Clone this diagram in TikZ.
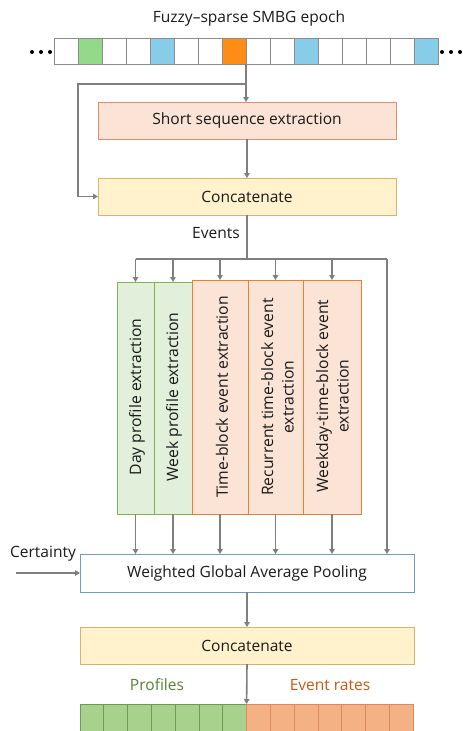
\documentclass[tikz,border=0pt]{standalone}
\usepackage{fontspec}
\setmainfont{Open Sans}
\usetikzlibrary{arrows.meta}
\definecolor{cellgray}{HTML}{8C8C8C}
\definecolor{cgreen}{RGB}{146,217,138}
\definecolor{cblue}{RGB}{135,204,232}
\definecolor{corange}{RGB}{255,140,20}
\definecolor{sseFill}{HTML}{FBE3D6}
\definecolor{sseDraw}{HTML}{E58D6B}
\definecolor{catFill}{HTML}{FFF2CC}
\definecolor{catDraw}{HTML}{D4B36A}
\definecolor{gFill}{HTML}{E2EFDA}
\definecolor{gDraw}{HTML}{7FB356}
\definecolor{oFill}{HTML}{FBE3D6}
\definecolor{oDraw}{HTML}{ED7D31}
\definecolor{wDraw}{HTML}{6F9CC6}
\definecolor{outGFill}{HTML}{A9D18E}
\definecolor{outGDraw}{HTML}{6E9A55}
\definecolor{outOFill}{HTML}{F4B183}
\definecolor{outODraw}{HTML}{D98A5F}
\definecolor{profC}{HTML}{548235}
\definecolor{evC}{HTML}{C55A11}
\definecolor{arrgray}{HTML}{7F7F7F}
\definecolor{txt}{HTML}{1A1A1A}
\newlength\mywa
\newlength\mywb
\newlength\mywc
\newlength\mywd
\AtBeginDocument{%
\settowidth\mywa{\normalfont\fontsize{10}{12}\selectfont Weighted Global Average Pooling}%
\settowidth\mywb{\normalfont\fontsize{10}{12}\selectfont Short sequence extraction}%
\settowidth\mywc{\normalfont\fontsize{10}{12}\selectfont Day profile extraction}%
\settowidth\mywd{\normalfont\fontsize{10}{12}\selectfont Time-block event extraction}%
\pgfmathsetmacro\hsz{(10*240/\mywa + 10*189/\mywb)/2}%
\pgfmathsetmacro\csz{(10*156/\mywc + 10*203/\mywd)/2}%
\pgfmathsetmacro\cbs{\csz*1.3}%
\global\let\hsz\hsz
\global\let\csz\csz
\global\let\cbs\cbs
}
\newcommand\mytxt{\fontsize{\hsz}{18}\selectfont}
\newcommand\mycol{\fontsize{\csz}{\cbs}\selectfont}
\tikzset{
 cell/.style={draw=cellgray, line width=0.8pt, minimum width=24pt, minimum height=26pt, inner sep=0pt, outer sep=0pt},
 wide/.style={line width=0.9pt, minimum width=298pt, minimum height=37pt, inner sep=0pt, outer sep=0pt, font=\mytxt, text=txt},
 colbox/.style={line width=1pt, inner sep=0pt, outer sep=0pt},
 coltext/.style={rotate=90, font=\mycol, text=txt, align=center, inner sep=0pt},
 lbl/.style={font=\mytxt, text=txt, inner sep=0pt},
 arr/.style={draw=arrgray, line width=1.6pt, -{Triangle[length=5pt,width=5.5pt]}},
 ln/.style={draw=arrgray, line width=1.6pt},
 outcell/.style={line width=0.8pt, minimum width=23.8pt, minimum height=36pt, inner sep=0pt, outer sep=0pt},
}
\begin{document}
\begin{tikzpicture}[x=1pt,y=-1pt]
\useasboundingbox (0,0) rectangle (463,731);
% title
\node[lbl] (title) at (249,18) {Fuzzy–sparse SMBG epoch};
% input strip
\foreach \i/\c in {1/white,2/cgreen,3/white,4/white,5/cblue,6/white,7/white,8/corange,9/white,10/white,11/cblue,12/white,13/white,14/white,15/white,16/cblue}{
  \node[cell, fill=\c] (c\i) at ({42+24*\i},51) {};
}
\foreach \x in {32,41,50,442,451,460}{
  \fill[black] (\x,52) circle (2pt);
}
% short sequence extraction
\node[wide, draw=sseDraw, fill=sseFill] (sse) at (247,120.5) {Short sequence extraction};
\node[wide, draw=catDraw, fill=catFill] (cat1) at (247,196.5) {Concatenate};
\draw[arr] (c8.south east) -- (c8.south east |- sse.north);
\path (c8.south east) ++(0,20) coordinate (j);
\draw[arr] (j) -- ++(-168,0) |- (cat1.west);
\draw[arr] (sse.south) -- (cat1.north);
\node[lbl] (events) at (216,233) {Events};
% column boxes
\node[colbox, draw=gDraw, fill=gFill, minimum width=37pt, minimum height=232pt] (day) at (135.5,398) {};
\node[colbox, draw=gDraw, fill=gFill, minimum width=38pt, minimum height=232pt] (week) at (173,398) {};
\node[colbox, draw=oDraw, fill=oFill, minimum width=56pt, minimum height=234pt] (tb) at (220,397) {};
\node[colbox, draw=oDraw, fill=oFill, minimum width=55pt, minimum height=234pt] (rec) at (275.5,397) {};
\node[colbox, draw=oDraw, fill=oFill, minimum width=58pt, minimum height=234pt] (wkd) at (332,397) {};
\node[coltext] (dayt) at (137,397) {Day profile extraction};
\node[coltext] (weekt) at (174,397) {Week profile extraction};
\node[coltext] (tbt) at (222,397) {Time-block event extraction};
\node[coltext] (rect) at (277.5,397) {Recurrent time-block event\\extraction};
\node[coltext] (wkdt) at (332.5,396) {Weekday-time-block event\\extraction};
% bus
\draw[ln] (cat1.south) -- (247,259) coordinate (bj);
\coordinate (br) at (387,259);
\draw[ln] (day.north |- bj) -- (br);
\foreach \n in {day,week,tb,rec,wkd}{
  \draw[arr] (\n.north |- bj) -- (\n.north);
}
% pooling
\node[wide, draw=wDraw, fill=white, minimum width=334pt, minimum height=38pt] (wgap) at (247,573) {Weighted Global Average Pooling};
\draw[arr] (br) -- (br |- wgap.north);
\foreach \n in {day,week,tb,rec,wkd}{
  \draw[arr] (\n.south) -- (\n.south |- wgap.north);
}
\node[lbl] (cert) at (43,554) {Certainty};
\coordinate (cin) at (16,573);
\draw[arr] (cin) -- (wgap.west);
% concatenate 2
\node[wide, draw=catDraw, fill=catFill, minimum width=334pt, minimum height=37pt] (cat2) at (247,645.5) {Concatenate};
\draw[arr] (wgap.south) -- (cat2.north);
% output strip
\foreach \i in {1,...,7}{
  \node[outcell, draw=outGDraw, fill=outGFill] (o\i) at ({80+23.8*(\i-0.5)},722) {};
}
\foreach \i in {8,...,14}{
  \node[outcell, draw=outODraw, fill=outOFill] (o\i) at ({80+23.8*(\i-0.5)},722) {};
}
\draw[arr] (cat2.south) -- (o7.north east);
\node[lbl, text=profC] (prof) at (157,685) {Profiles};
\node[lbl, text=evC] (evr) at (330,685) {Event rates};
\end{tikzpicture}
\end{document}
